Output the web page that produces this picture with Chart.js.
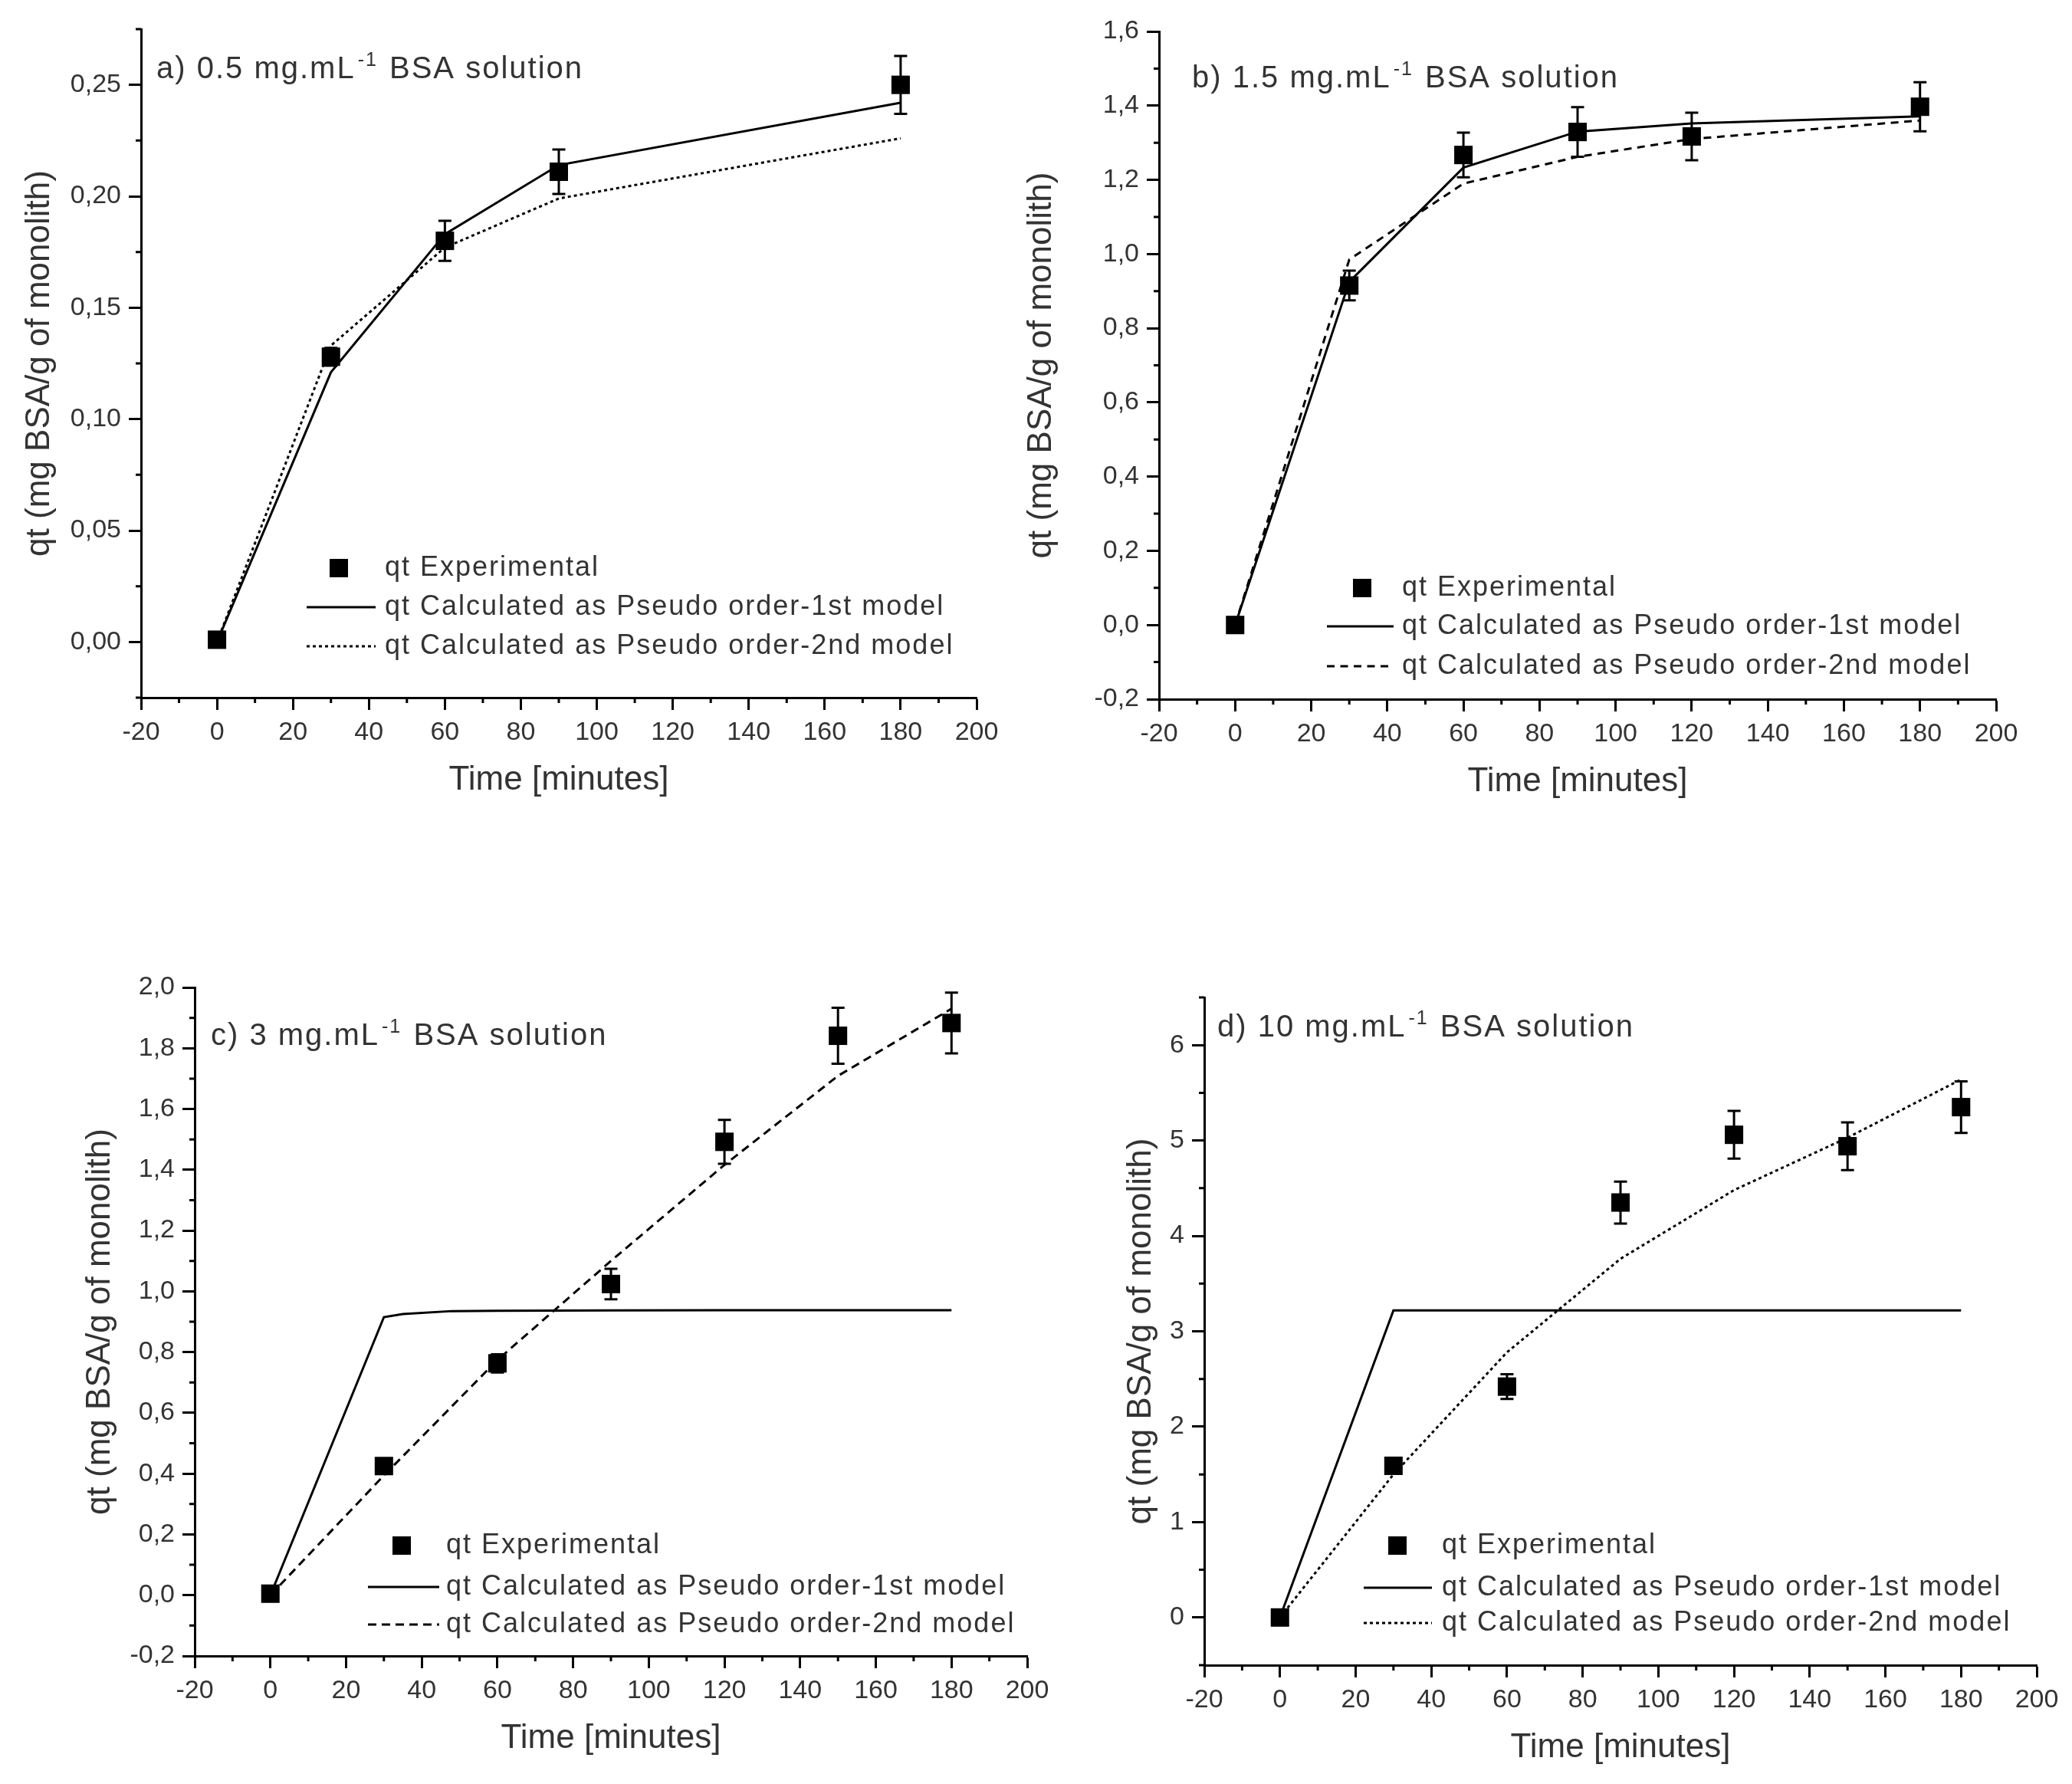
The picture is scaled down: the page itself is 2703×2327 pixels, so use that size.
<!DOCTYPE html>
<html lang="en">
<head>
<meta charset="UTF-8" />
<title>BSA adsorption kinetics</title>
<script src="https://cdn.jsdelivr.net/npm/chart.js@4.4.1/dist/chart.umd.min.js"></script>
<style>
  html, body { margin: 0; padding: 0; background: #fff; }
  body { width: 2703px; height: 2327px; position: relative; overflow: hidden; }
  .panel { position: absolute; }
</style>
</head>
<body>
<div class="panel" id="boxA"><canvas id="chartA"></canvas></div>
<div class="panel" id="boxB"><canvas id="chartB"></canvas></div>
<div class="panel" id="boxC"><canvas id="chartC"></canvas></div>
<div class="panel" id="boxD"><canvas id="chartD"></canvas></div>
<script>
// a) 0.5 mg/mL
const timesA = [0, 30, 60, 90, 180];
const expA   = [0.001, 0.128, 0.180, 0.211, 0.250];
const errA   = [0, 0.004, 0.009, 0.010, 0.013];
const pfoA   = [0, 0.121, 0.183, 0.214, 0.242];
const psoA   = [0, 0.133, 0.177, 0.199, 0.226];

// b) 1.5 mg/mL
const timesB = [0, 30, 60, 90, 120, 180];
const expB   = [0.00, 0.915, 1.267, 1.329, 1.317, 1.397];
const errB   = [0, 0.04, 0.06, 0.067, 0.064, 0.066];
const pfoB   = [0, 0.925, 1.233, 1.330, 1.352, 1.371];
const psoB   = [0, 0.985, 1.190, 1.262, 1.310, 1.360];

// c) 3 mg/mL
const timesC = [0, 30, 35, 48, 60, 90, 120, 150, 180];
const pfoC   = [0, 0.915, 0.925, 0.935, 0.936, 0.937, 0.938, 0.938, 0.938];
const expTimesC = [0, 30, 60, 90, 120, 150, 180];
const expC   = [0.005, 0.425, 0.763, 1.024, 1.492, 1.841, 1.883];
const errC   = [0, 0.02, 0.03, 0.05, 0.072, 0.092, 0.10];
const psoC   = [0, 0.394, 0.774, 1.100, 1.416, 1.709, 1.930];

// d) 10 mg/mL
const timesD = [0, 30, 60, 90, 120, 150, 180];
const expD   = [0, 1.59, 2.42, 4.35, 5.06, 4.94, 5.35];
const errD   = [0, 0.03, 0.13, 0.22, 0.25, 0.25, 0.27];
const pfoD   = [0, 3.22, 3.22, 3.22, 3.22, 3.22, 3.22];
const psoD   = [0, 1.50, 2.78, 3.76, 4.48, 5.03, 5.64];

const xTicks = { min: -20, max: 200, step: 10, major: 20 };
const legendLabels = [
  'qt Experimental',
  'qt Calculated as Pseudo order-1st model',
  'qt Calculated as Pseudo order-2nd model'
];

const FONT = "'Liberation Sans', Arial, Helvetica, sans-serif";
const INK = '#333';
Chart.defaults.font.family = FONT;
Chart.defaults.color = INK;

function isMajor(v, step) {
  const r = v / step;
  return Math.abs(r - Math.round(r)) < 1e-6;
}

// short unlabelled ticks between the major ones
const minorTicks = {
  id: 'minorTicks',
  afterDraw(chart, args, o) {
    const { ctx, chartArea: a, scales: { x, y } } = chart;
    ctx.save();
    ctx.strokeStyle = '#000';
    ctx.lineWidth = 3;
    ctx.beginPath();
    x.ticks.forEach(t => {
      if (isMajor(t.value, o.xMajor)) return;
      const px = x.getPixelForValue(t.value);
      ctx.moveTo(px, a.bottom);
      ctx.lineTo(px, a.bottom + 7);
    });
    y.ticks.forEach(t => {
      if (isMajor(t.value, o.yMajor)) return;
      const py = y.getPixelForValue(t.value);
      ctx.moveTo(a.left, py);
      ctx.lineTo(a.left - 7, py);
    });
    ctx.stroke();
    ctx.restore();
  }
};

// vertical error bars on the experimental points
const errorBars = {
  id: 'errorBars',
  afterDatasetsDraw(chart, args, o) {
    const { ctx, scales: { x, y } } = chart;
    const pts = chart.data.datasets[0].data;
    ctx.save();
    ctx.strokeStyle = '#000';
    ctx.lineWidth = 3;
    pts.forEach((p, i) => {
      const e = o.err[i];
      if (!e) return;
      const px = x.getPixelForValue(p.x);
      const hi = y.getPixelForValue(p.y + e);
      const lo = y.getPixelForValue(p.y - e);
      ctx.beginPath();
      ctx.moveTo(px, hi); ctx.lineTo(px, lo);
      ctx.moveTo(px - 8.5, hi); ctx.lineTo(px + 8.5, hi);
      ctx.moveTo(px - 8.5, lo); ctx.lineTo(px + 8.5, lo);
      ctx.stroke();
    });
    ctx.restore();
  }
};

// panel caption and the in-plot legend
const panelText = {
  id: 'panelText',
  afterDraw(chart, args, o) {
    const { ctx, chartArea: a } = chart;
    const ds = chart.data.datasets;
    ctx.save();
    ctx.fillStyle = INK;
    ctx.textBaseline = 'alphabetic';
    ctx.letterSpacing = '2px';

    // caption with superscript
    let tx = a.left + o.title.x;
    const ty = a.top + o.title.y;
    ctx.font = `40px ${FONT}`;
    ctx.fillText(o.title.pre, tx, ty);
    tx += ctx.measureText(o.title.pre).width + 3;
    ctx.font = `25px ${FONT}`;
    ctx.fillText('-1', tx, ty - 16);
    tx += ctx.measureText('-1').width + 2;
    ctx.font = `40px ${FONT}`;
    ctx.fillText(' BSA solution', tx, ty);

    // legend
    const L = o.legend;
    ctx.font = `36px ${FONT}`;
    ctx.textBaseline = 'middle';
    L.rows.forEach((dy, i) => {
      const ry = a.bottom + dy;
      if (i === 0) {
        ctx.fillStyle = '#000';
        ctx.fillRect(a.left + L.marker - 12, ry - 12, 24, 24);
      } else {
        ctx.strokeStyle = ds[i].borderColor;
        ctx.lineWidth = ds[i].borderWidth;
        ctx.setLineDash(ds[i].borderDash || []);
        ctx.beginPath();
        ctx.moveTo(a.left + L.line0, ry);
        ctx.lineTo(a.left + L.line1, ry);
        ctx.stroke();
        ctx.setLineDash([]);
      }
      ctx.fillStyle = INK;
      ctx.fillText(ds[i].label, a.left + L.text, ry);
    });
    ctx.restore();
  }
};

const panels = [
  { canvas: 'chartA', box: 'boxA', left: 25, top: 0, width: 1309, height: 1054,
    yw: 159, padTop: 38, padRight: 60,
    yMin: -0.025, yMax: 0.275, yStep: 0.025, yMajor: 0.05, yDec: 2,
    times: timesA, exp: expA, err: errA, fitTimes: timesA, pfo: pfoA, pso: psoA, dash2: [4, 4],
    title: { pre: 'a) 0.5 mg.mL', x: 20, y: 64 },
    legend: { marker: 258, line0: 216, line1: 306, text: 318, rows: [-169, -118, -67] } },
  { canvas: 'chartB', box: 'boxB', left: 1332, top: 0, width: 1332, height: 1056,
    yw: 180, padTop: 41, padRight: 60,
    yMin: -0.2, yMax: 1.6, yStep: 0.1, yMajor: 0.2, yDec: 1,
    times: timesB, exp: expB, err: errB, fitTimes: timesB, pfo: pfoB, pso: psoB, dash2: [10, 7.5],
    title: { pre: 'b) 1.5 mg.mL', x: 43, y: 73 },
    legend: { marker: 265, line0: 219, line1: 306, text: 317, rows: [-145, -95, -43] } },
  { canvas: 'chartC', box: 'boxC', left: 104, top: 1240, width: 1296, height: 1064,
    yw: 150, padTop: 48, padRight: 60,
    yMin: -0.2, yMax: 2.0, yStep: 0.1, yMajor: 0.2, yDec: 1,
    times: expTimesC, exp: expC, err: errC, fitTimes: timesC, pfo: pfoC,
    psoTimes: expTimesC, pso: psoC, dash2: [11, 7],
    title: { pre: 'c) 3 mg.mL', x: 21, y: 75 },
    legend: { marker: 270, line0: 226, line1: 319, text: 328, rows: [-144, -90, -41] } },
  { canvas: 'chartD', box: 'boxD', left: 1462, top: 1240, width: 1235, height: 1076,
    yw: 109, padTop: 61, padRight: 40,
    yMin: -0.5, yMax: 6.5, yStep: 0.5, yMajor: 1, yDec: 0,
    times: timesD, exp: expD, err: errD, fitTimes: timesD, pfo: pfoD, pso: psoD, dash2: [4, 4],
    title: { pre: 'd) 10 mg.mL', x: 17, y: 51 },
    legend: { marker: 252, line0: 208, line1: 297, text: 310, rows: [-156, -101, -55] } }
];

function xy(times, vals) {
  return times.map((t, i) => ({ x: t, y: vals[i] }));
}

panels.forEach(p => {
  const box = document.getElementById(p.box);
  box.style.left = p.left + 'px';
  box.style.top = p.top + 'px';
  box.style.width = p.width + 'px';
  box.style.height = p.height + 'px';

  new Chart(document.getElementById(p.canvas), {
    type: 'scatter',
    data: {
      datasets: [
        { label: legendLabels[0], data: xy(p.times, p.exp), showLine: false,
          pointStyle: 'rect', pointRadius: 17, pointBackgroundColor: '#000', pointBorderWidth: 0 },
        { label: legendLabels[1], data: xy(p.fitTimes, p.pfo), showLine: true,
          borderColor: '#000', borderWidth: 3, pointRadius: 0, tension: 0 },
        { label: legendLabels[2], data: xy(p.psoTimes || p.fitTimes, p.pso), showLine: true,
          borderColor: '#000', borderWidth: 3, borderDash: p.dash2, pointRadius: 0, tension: 0 }
      ]
    },
    options: {
      responsive: true,
      maintainAspectRatio: false,
      animation: false,
      events: [],
      layout: { padding: { top: p.padTop, right: p.padRight, bottom: 10, left: 0 } },
      scales: {
        x: {
          type: 'linear', position: 'bottom',
          min: xTicks.min, max: xTicks.max,
          ticks: {
            stepSize: xTicks.step, autoSkip: false, maxRotation: 0, padding: 9,
            color: INK, font: { size: 34 },
            callback: v => isMajor(v, xTicks.major) ? String(v) : ''
          },
          grid: {
            drawOnChartArea: false, tickLength: 16, tickWidth: 3,
            tickColor: c => (c.tick && isMajor(c.tick.value, xTicks.major)) ? '#000' : 'rgba(0,0,0,0)'
          },
          border: { display: true, color: '#000', width: 3 },
          title: { display: true, text: 'Time [minutes]', color: INK, font: { size: 44 }, padding: 0 },
          afterFit: s => { s.height = 134; }
        },
        y: {
          type: 'linear', position: 'left',
          min: p.yMin, max: p.yMax,
          ticks: {
            stepSize: p.yStep, autoSkip: false, padding: 10,
            color: INK, font: { size: 34 },
            callback: v => isMajor(v, p.yMajor) ? v.toFixed(p.yDec).replace('.', ',') : ''
          },
          grid: {
            drawOnChartArea: false, tickLength: 16, tickWidth: 3,
            tickColor: c => (c.tick && isMajor(c.tick.value, p.yMajor)) ? '#000' : 'rgba(0,0,0,0)'
          },
          border: { display: true, color: '#000', width: 3 },
          title: { display: true, text: 'qt (mg BSA/g of monolith)', color: INK, font: { size: 44 }, padding: 0 },
          afterFit: s => { s.width = p.yw; }
        }
      },
      plugins: {
        legend: { display: false },
        tooltip: { enabled: false },
        minorTicks: { xMajor: xTicks.major, yMajor: p.yMajor },
        errorBars: { err: p.err },
        panelText: { title: p.title, legend: p.legend }
      }
    },
    plugins: [minorTicks, errorBars, panelText]
  });
});
</script>
</body>
</html>
